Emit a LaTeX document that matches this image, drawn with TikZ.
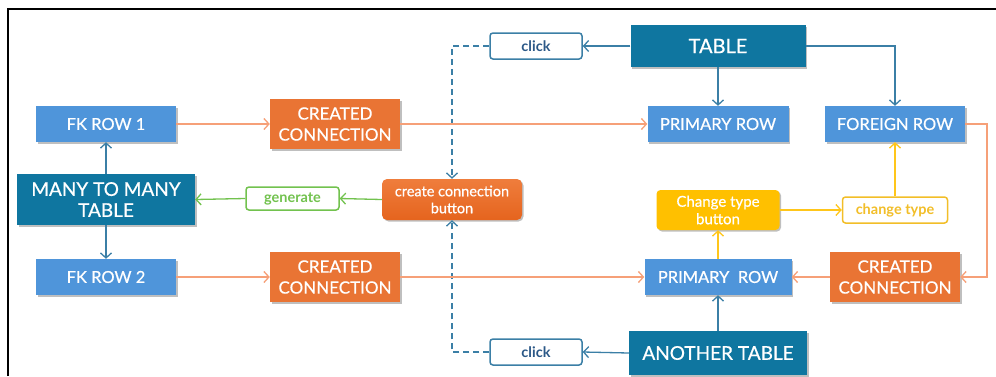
\documentclass[tikz,border=0pt]{standalone}
\usepackage{fontspec}
\setmainfont{Lato}
\newfontfamily\labelfont{Lato}[FakeBold=0.6]
\usetikzlibrary{arrows.meta,shadows}
\definecolor{deepteal}{HTML}{0F76A0}
\definecolor{rowblue}{HTML}{4F95DA}
\definecolor{conorange}{HTML}{E97434}
\definecolor{btntop}{HTML}{EF7D3C}
\definecolor{btnbot}{HTML}{E5641E}
\definecolor{linkorange}{HTML}{F6A078}
\definecolor{btnyellow}{HTML}{FFC000}
\definecolor{linkyellow}{HTML}{FFC61A}
\definecolor{tagyellow}{HTML}{F2BE28}
\definecolor{linkgreen}{HTML}{72C24E}
\definecolor{linkblue}{HTML}{3B7FA6}
\definecolor{clicktext}{HTML}{2B5887}
\begin{document}
\begin{tikzpicture}[x=1pt,y=-1pt,
  shade/.style={drop shadow={shadow xshift=1.5pt,shadow yshift=-1.5pt,opacity=0.25,fill=black}},
  box/.style={rectangle,inner sep=0pt,align=center,text=white,shade},
  darkbox/.style={box,fill=deepteal,font=\labelfont\fontsize{19}{21}\selectfont},
  rowbox/.style={box,fill=rowblue,minimum width=140pt,minimum height=36pt,font=\labelfont\fontsize{16.5}{18}\selectfont},
  conbox/.style={box,fill=conorange,minimum width=130pt,minimum height=50pt,font=\labelfont\fontsize{17}{21}\selectfont},
  tag/.style={rectangle,rounded corners=3pt,fill=white,line width=1.5pt,minimum height=26pt,inner sep=0pt,font=\bfseries\fontsize{14.5}{16}\selectfont},
  tip/.style={-{Straight Barb[length=5pt,width=11pt,line width=1.3pt]}},
  blu/.style={draw=linkblue,line width=1.3pt,tip},
  org/.style={draw=linkorange,line width=1.3pt,tip},
  grn/.style={draw=linkgreen,line width=1.3pt,tip},
  ylw/.style={draw=linkyellow,line width=1.5pt,tip},
]
\useasboundingbox (0,0) rectangle (996,376);
% frame edges
\draw[line width=2.8pt] (8,376) -- (8,9) -- (996,9);

% left column
\node[rowbox] (fk1) at (106,124) {FK ROW 1};
\node[darkbox,minimum width=178pt,minimum height=51pt] (mm) at (106,199.5) {MANY TO MANY\\TABLE};
\node[rowbox] (fk2) at (106,277) {FK ROW 2};

% middle column
\node[conbox] (cc1) at (335,124) {CREATED\\CONNECTION};
\node[conbox] (cc2) at (335,277) {CREATED\\CONNECTION};
\node[tag,draw=linkgreen,text=linkgreen,minimum width=93pt,minimum height=23pt] (gen) at (292.5,198.5) {generate};
\node[box,rounded corners=5pt,top color=btntop,bottom color=btnbot,minimum width=140pt,minimum height=41pt,font=\labelfont\fontsize{14.5}{17}\selectfont] (ccb) at (452,199.5) {create connection\\button};

% click tags
\node[tag,draw=linkblue,text=clicktext,minimum width=92pt] (click1) at (536,46) {click};
\node[tag,draw=linkblue,text=clicktext,minimum width=92pt] (click2) at (536,352) {click};

% right part
\node[darkbox,minimum width=175pt,minimum height=42pt,font=\labelfont\fontsize{20}{22}\selectfont] (table) at (718,46) {TABLE};
\node[rowbox,minimum width=141pt] (prow1) at (718,124) {PRIMARY ROW};
\node[rowbox] (frow) at (895,124) {FOREIGN ROW};
\node[box,rounded corners=4pt,fill=btnyellow,minimum width=123pt,minimum height=40pt,font=\labelfont\fontsize{15}{17.5}\selectfont] (ctb) at (718,210) {Change type\\button};
\node[tag,draw=tagyellow,text=tagyellow,minimum width=105pt] (ct) at (895,210) {change type};
\node[rowbox,minimum width=147pt] (prow2) at (718,277) {PRIMARY~~ROW};
\node[conbox] (cc3) at (895,277) {CREATED\\CONNECTION};
\node[darkbox,minimum width=178pt,minimum height=44pt] (another) at (718,353) {ANOTHER TABLE};

% connectors
\draw[blu] (table.west) -- (click1.east);
\draw[blu,dash pattern=on 6pt off 4pt] (click1.west) -| (ccb.north);
\draw[blu,dash pattern=on 6pt off 4pt] (click2.west) -| (ccb.south);
\draw[blu] (table.south) -- (prow1.north);
\draw[blu] (table.east) -| (frow.north);
\draw[blu] (mm.north) -- (fk1.south);
\draw[blu] (mm.south) -- (fk2.north);
\draw[blu] (another.north) -- (prow2.south);
\draw[blu] (another.west) -- (click2.east);

\draw[org] (fk1.east) -- (cc1.west);
\draw[org] (cc1.east) -- (prow1.west);
\draw[org] (fk2.east) -- (cc2.west);
\draw[org] (cc2.east) -- (prow2.west);
\coordinate (turn) at (987,124);
\draw[org] (frow.east) -- (turn) |- (cc3.east);
\draw[org] (cc3.west) -- (prow2.east);

\draw[grn] (ccb.west) -- (gen.east);
\draw[grn] (gen.west) -- (mm.east);

\draw[ylw] (prow2.north) -- (ctb.south);
\draw[ylw] (ctb.east) -- (ct.west);
\draw[ylw] (ct.north) -- (frow.south);
\end{tikzpicture}
\end{document}
